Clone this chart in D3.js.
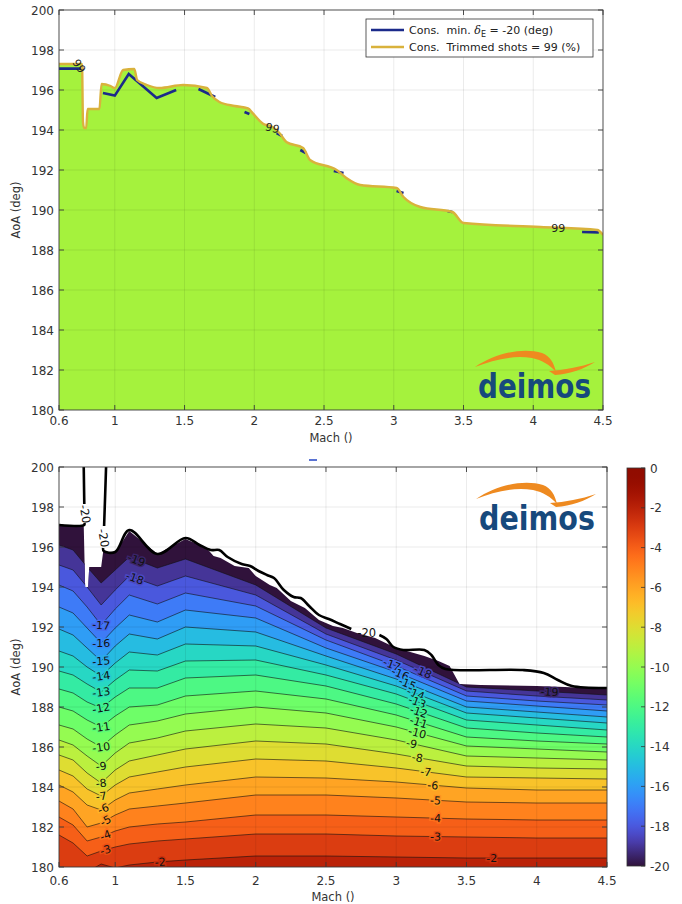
<!DOCTYPE html>
<html><head><meta charset="utf-8">
<script src="https://cdn.jsdelivr.net/npm/d3@7"></script>
<style>
body{margin:0;background:#fff}
svg{display:block}
text{font-family:"DejaVu Sans",sans-serif}
</style>
</head><body>
<svg id="c" width="682" height="904"></svg>
<script>
// ---------------- data ----------------
const machTicks = [0.6, 1, 1.5, 2, 2.5, 3, 3.5, 4, 4.5];
const machTickLabels = ["0.6", "1", "1.5", "2", "2.5", "3", "3.5", "4", "4.5"];
const aoaTicks = [180, 182, 184, 186, 188, 190, 192, 194, 196, 198, 200];
const cbarTicks = [0, -2, -4, -6, -8, -10, -12, -14, -16, -18, -20];

// top panel: trimmed-shots = 99% boundary
const trimMach = [0.6,0.765,0.772,0.78,0.795,0.805,0.89,0.905,0.97,1.0,1.06,1.14,1.16,1.23,1.32,1.49,1.66,1.7,1.75,1.86,1.955,1.99,2.06,2.13,2.18,2.23,2.35,2.4,2.59,2.66,2.76,3.02,3.07,3.19,3.42,3.5,4.05,4.46,4.5];
const trimAoA  = [197.3,197.3,194.4,194.1,194.1,195.05,195.05,196.3,196.2,196.1,197.0,197.05,196.5,196.25,196.1,196.25,196.1,195.67,195.4,195.2,195.08,194.83,194.33,194.15,193.85,193.4,193.1,192.5,192.0,191.6,191.25,191.1,190.65,190.15,189.9,189.35,189.15,189.0,188.75];
// top panel: min elevator -20 deg constraint (visible parts, null = gap)
const minDeMach = [0.6,0.775,null,0.915,1.0,1.1,1.3,1.44,null,1.6,1.72,null,1.93,1.965,null,2.16,2.2,null,2.33,2.37,null,2.57,2.64,null,3.02,3.07,null,3.385,3.42,null,4.35,4.47];
const minDeAoA  = [197.07,197.07,null,195.85,195.72,196.8,195.6,196.0,null,196.05,195.65,null,194.9,194.8,null,193.85,193.7,null,193.0,192.85,null,191.95,191.85,null,190.95,190.85,null,189.95,189.9,null,188.9,188.88];
const label99Mach = [0.745, 2.13, 4.18];
const label99AoA  = [197.2, 194.1, 189.1];

// bottom panel: contour lines of min elevator deflection
const gridMach = [0.6,0.7,0.8,0.9,1.0,1.1,1.3,1.5,2.0,2.5,3.0,3.5,4.0,4.5];
const contourLevels = [-19,-18,-17,-16,-15,-14,-13,-12,-11,-10,-9,-8,-7,-6,-5,-4,-3,-2];
const contourAoA = [
  [196.1,195.85,195.0,194.2,194.85,195.5,194.95,195.4,194.1,191.95,190.65,189.0,188.8,188.6],
  [195.1,194.85,194.0,193.1,193.85,194.55,194.05,194.55,193.6,191.65,190.35,188.8,188.55,188.35],
  [194.1,193.8,193.0,192.1,192.9,193.6,193.15,193.7,193.05,191.35,190.05,188.55,188.3,188.1],
  [193.0,192.7,191.95,191.2,191.95,192.6,192.25,192.85,192.45,190.95,189.75,188.3,188.05,187.8],
  [191.9,191.6,190.95,190.3,191.05,191.65,191.4,192.0,191.75,190.55,189.4,188.0,187.75,187.5],
  [190.8,190.55,190.0,189.55,190.2,190.75,190.6,191.15,191.05,190.1,189.05,187.7,187.45,187.2],
  [189.8,189.6,189.15,188.75,189.35,189.85,189.8,190.3,190.35,189.6,188.65,187.35,187.1,186.85],
  [188.9,188.7,188.25,187.95,188.5,188.95,188.95,189.45,189.6,189.05,188.15,186.95,186.7,186.5],
  [188.0,187.8,187.35,187.0,187.55,188.0,188.1,188.55,188.8,188.4,187.6,186.5,186.3,186.15],
  [187.1,186.9,186.4,186.0,186.6,187.1,187.3,187.65,188.0,187.7,187.0,186.05,185.9,185.75],
  [186.35,186.1,185.55,185.05,185.7,186.2,186.45,186.8,187.15,186.95,186.35,185.55,185.45,185.35],
  [185.6,185.35,184.7,184.2,184.85,185.3,185.6,185.9,186.3,186.15,185.65,185.05,184.95,184.9],
  [184.85,184.55,183.9,183.55,184.1,184.5,184.75,185.0,185.4,185.3,184.95,184.5,184.45,184.4],
  [184.1,183.75,183.1,182.85,183.35,183.7,183.9,184.1,184.5,184.45,184.25,183.95,183.85,183.85],
  [183.3,182.9,182.0,182.2,182.6,182.9,183.05,183.2,183.6,183.6,183.45,183.25,183.2,183.2],
  [182.5,182.1,181.3,181.5,181.8,182.0,182.15,182.25,182.6,182.6,182.5,182.4,182.35,182.35],
  [181.6,181.2,180.55,180.8,181.0,181.15,181.3,181.4,181.65,181.65,181.55,181.5,181.45,181.45],
  [179.8,179.7,179.75,180.15,179.95,180.1,180.25,180.35,180.55,180.55,180.5,180.45,180.45,180.45]
];
// data envelope (top of the coloured region)
const edgeMach = [0.6,0.776,0.786,0.808,0.815,0.9,0.915,1.0,1.1,1.3,1.5,1.65,1.7,1.75,1.85,1.95,2.0,2.1,2.15,2.25,2.35,2.45,2.55,2.62,2.72,2.85,3.0,3.1,3.2,3.3,3.38,3.45,3.6,4.0,4.2,4.5];
const edgeAoA  = [197.1,197.1,194.0,194.0,195.0,195.0,195.8,195.7,196.8,195.65,196.4,195.95,195.55,195.45,195.05,194.95,194.55,194.1,193.95,193.3,192.95,192.35,192.05,191.95,191.7,191.45,190.95,190.75,190.55,190.3,190.05,189.15,189.1,189.05,189.0,188.9];
// -20 deg constraint contour (thick), null = gap
const c20Mach = [0.6,0.779,0.781,null,0.78,0.776,null,0.935,0.928,0.921,null,0.914,0.918,1.0,1.1,1.3,1.5,1.6,1.68,1.74,1.8,1.9,1.96,2.02,2.08,2.13,2.2,2.27,2.32,2.38,2.45,2.52,2.6,2.68,null,2.88,2.93,2.98,3.05,3.2,3.25,3.3,3.35,3.9,4.05,4.15,4.25,4.5];
const c20AoA  = [197.1,197.1,197.2,null,198.15,200,null,200,198.5,197.05,null,195.95,195.8,195.75,196.85,195.65,196.45,196.1,195.85,195.85,195.5,195.15,195.05,194.8,194.6,194.45,193.85,193.5,193.45,193.05,192.6,192.4,192.15,191.9,null,191.6,191.4,191.0,190.85,190.85,190.6,190.1,189.9,189.85,189.7,189.35,189.05,188.95];
// inline contour labels
const labelLevels = [-19,-18,-17,-16,-15,-14,-13,-12,-11,-10,-9,-8,-7,-6,-5,-4,-3,-2,-2,-17,-16,-15,-14,-13,-12,-11,-10,-9,-8,-7,-6,-5,-4,-3,-18,-19];
const labelMach   = [1.15,1.14,0.9,0.9,0.9,0.9,0.9,0.9,0.9,0.9,0.9,0.9,0.9,0.915,0.93,0.93,0.93,1.32,3.68,2.97,3.03,3.08,3.14,3.15,3.16,3.16,3.15,3.11,3.15,3.21,3.26,3.28,3.28,3.28,3.19,4.09];
const lbl20Mach = [0.785, 0.918, 2.79];
const lbl20AoA  = [197.65, 196.45, 191.72];

// ---------------- drawing ----------------
const svg = d3.select("#c");
const defs = svg.append("defs");
const TXT = "#333";

const xT = d3.scaleLinear().domain([0.6, 4.5]).range([59, 603]);
const yT = d3.scaleLinear().domain([180, 200]).range([410, 10]);
const xB = d3.scaleLinear().domain([0.6, 4.5]).range([59, 607]);
const yB = d3.scaleLinear().domain([180, 200]).range([867, 467]);
const cY = d3.scaleLinear().domain([-20, 0]).range([866, 468]);

function cmap(t) {
  t = Math.max(0, Math.min(1, t));
  if (t < 0.06) return d3.interpolateRgb("#30123b", d3.interpolateTurbo(0.06))(t / 0.06);
  return d3.interpolateTurbo(t);
}
const levelT = L => (L + 20) / 20;

function clipRect(id, x, y) {
  defs.append("clipPath").attr("id", id).append("rect")
    .attr("x", x.range()[0]).attr("y", y.range()[1])
    .attr("width", x.range()[1] - x.range()[0]).attr("height", y.range()[0] - y.range()[1]);
}
clipRect("clipT", xT, yT);
clipRect("clipB", xB, yB);

function gridAndAxes(g, x, y) {
  const grid = g.append("g").attr("stroke", "#000").attr("stroke-opacity", 0.1).attr("stroke-width", 0.8);
  machTicks.slice(1, -1).forEach(m => grid.append("line").attr("x1", x(m)).attr("x2", x(m)).attr("y1", y(180)).attr("y2", y(200)));
  aoaTicks.slice(1, -1).forEach(a => grid.append("line").attr("x1", x(0.6)).attr("x2", x(4.5)).attr("y1", y(a)).attr("y2", y(a)));
}
function frame(g, x, y, ylabelY, xTickY, xLabY) {
  const ax = g.append("g").attr("stroke", "#3a3a3a").attr("stroke-width", 0.9);
  const x0 = x(0.6), x1 = x(4.5), y0 = y(180), y1 = y(200);
  machTicks.forEach(m => {
    ax.append("line").attr("x1", x(m)).attr("x2", x(m)).attr("y1", y0).attr("y2", y0 - 5);
    ax.append("line").attr("x1", x(m)).attr("x2", x(m)).attr("y1", y1).attr("y2", y1 + 5);
  });
  aoaTicks.forEach(a => {
    ax.append("line").attr("x1", x0).attr("x2", x0 + 5).attr("y1", y(a)).attr("y2", y(a));
    ax.append("line").attr("x1", x1).attr("x2", x1 - 5).attr("y1", y(a)).attr("y2", y(a));
  });
  ax.append("rect").attr("x", x0).attr("y", y1).attr("width", x1 - x0).attr("height", y0 - y1).attr("fill", "none");
  const tl = g.append("g").attr("fill", TXT).attr("font-size", 12);
  machTicks.forEach((m, i) => tl.append("text").attr("x", x(m)).attr("y", xTickY).attr("text-anchor", "middle").text(machTickLabels[i]));
  aoaTicks.forEach(a => tl.append("text").attr("x", x0 - 5).attr("y", y(a) + 4.5).attr("text-anchor", "end").text(a));
  tl.append("text").attr("x", (x0 + x1) / 2).attr("y", xLabY).attr("text-anchor", "middle").attr("font-size", 11.5).text("Mach ()");
  tl.append("text").attr("transform", `translate(20,${ylabelY}) rotate(-90)`).attr("text-anchor", "middle").attr("font-size", 11.5).text("AoA (deg)");
}
function logo(g, ox, oy, s, w) {
  const lg = g.append("g").attr("transform", `translate(${ox},${oy}) scale(${s})`);
  lg.append("path").attr("fill", "#ee8a20")
    .attr("d", "M -3,-31 C 18,-45 45,-51 64,-45 C 72,-42 76,-35 78,-26 C 72,-33 64,-38 54,-40 C 34,-43 15,-38 -3,-31 Z");
  lg.append("path").attr("fill", "#ee8a20")
    .attr("d", "M 71,-27 C 86,-28 102,-31 117,-36 C 106,-29 92,-24 77,-23 Z");
  lg.append("text").attr("x", 0).attr("y", 0).attr("fill", "#17497c")
    .attr("font-family", "'Open Sans', sans-serif").attr("font-weight", 600).attr("font-size", 33)
    .attr("textLength", w).attr("lengthAdjust", "spacingAndGlyphs").text("deimos");
}

// ======== TOP PANEL ========
const gT = svg.append("g");
const pT = gT.append("g").attr("clip-path", "url(#clipT)");
const trimPts = trimMach.map((m, i) => [m, trimAoA[i]]);
pT.append("path").datum(trimPts).attr("fill", "#a5f23d")
  .attr("d", d3.area().x(d => xT(d[0])).y0(yT(180)).y1(d => yT(d[1])).curve(d3.curveMonotoneX));
gridAndAxes(pT, xT, yT);
const minPts = minDeMach.map((m, i) => [m, minDeAoA[i]]);
pT.append("path").datum(minPts).attr("fill", "none").attr("stroke", "#1b2a8a").attr("stroke-width", 2.6)
  .attr("d", d3.line().defined(d => d[0] != null).x(d => xT(d[0])).y(d => yT(d[1])));
pT.append("path").datum(trimPts).attr("fill", "none").attr("stroke", "#d9b23c").attr("stroke-width", 2.4)
  .attr("d", d3.line().x(d => xT(d[0])).y(d => yT(d[1])).curve(d3.curveMonotoneX));
label99Mach.forEach((m, i) => {
  const rot = i === 0 ? 55 : (i === 1 ? 15 : 0);
  pT.append("text").attr("transform", `translate(${xT(m)},${yT(label99AoA[i])}) rotate(${rot})`)
    .attr("text-anchor", "middle").attr("dy", 4).attr("font-size", 11).attr("fill", "#222").text("99");
});
frame(gT, xT, yT, 210, 425, 442);
logo(gT, 478, 398, 1, 113);
// legend
const lg = gT.append("g");
lg.append("rect").attr("x", 366).attr("y", 19).attr("width", 227).attr("height", 38).attr("fill", "#fff").attr("stroke", "#333").attr("stroke-width", 0.8);
lg.append("line").attr("x1", 371).attr("x2", 404).attr("y1", 30).attr("y2", 30).attr("stroke", "#1b2a8a").attr("stroke-width", 2.4);
lg.append("line").attr("x1", 371).attr("x2", 404).attr("y1", 47).attr("y2", 47).attr("stroke", "#d9b23c").attr("stroke-width", 2.4);
const t1 = lg.append("text").attr("x", 409).attr("y", 34).attr("font-size", 11).attr("fill", "#222");
t1.append("tspan").text("Cons.\u00a0\u00a0min. ");
t1.append("tspan").attr("font-style", "italic").attr("font-family", "'DejaVu Serif', serif").text("\u03b4");
t1.append("tspan").attr("font-size", 8).attr("dy", 3).text("E");
t1.append("tspan").attr("dy", -3).text(" = -20 (deg)");
lg.append("text").attr("x", 409).attr("y", 51).attr("font-size", 11).attr("fill", "#222").text("Cons.\u00a0\u00a0Trimmed shots = 99 (%)");

// ======== BOTTOM PANEL ========
const gB = svg.append("g");
const edgePts = edgeMach.map((m, i) => [m, edgeAoA[i]]);
defs.append("clipPath").attr("id", "edgeClip").append("path").datum(edgePts)
  .attr("d", d3.area().x(d => xB(d[0])).y0(yB(180)).y1(d => yB(d[1])));
const pB = gB.append("g").attr("clip-path", "url(#clipB)");
const bands = pB.append("g").attr("clip-path", "url(#edgeClip)");
const bandArea = d3.area().x(d => xB(d[0])).y0(yB(179)).y1(d => yB(d[1]));
bands.append("rect").attr("x", xB(0.6)).attr("y", yB(200)).attr("width", xB(4.5) - xB(0.6)).attr("height", yB(180) - yB(200)).attr("fill", cmap(0));
contourLevels.forEach((L, k) => {
  const pts = gridMach.map((m, i) => [m, contourAoA[k][i]]);
  bands.append("path").datum(pts).attr("fill", cmap(levelT(L))).attr("d", bandArea);
});
const cl = d3.line().x(d => xB(d[0])).y(d => yB(d[1]));
contourLevels.forEach((L, k) => {
  const pts = gridMach.map((m, i) => [m, contourAoA[k][i]]);
  bands.append("path").datum(pts).attr("fill", "none").attr("stroke", "#111").attr("stroke-opacity", 0.85).attr("stroke-width", 0.7).attr("d", cl);
});
gridAndAxes(pB, xB, yB);
function aoaAt(row, m) {
  for (let i = 0; i < gridMach.length - 1; i++) {
    if (m >= gridMach[i] && m <= gridMach[i + 1]) {
      const t = (m - gridMach[i]) / (gridMach[i + 1] - gridMach[i]);
      return row[i] + t * (row[i + 1] - row[i]);
    }
  }
  return row[row.length - 1];
}
const labG = pB.append("g").attr("clip-path", "url(#edgeClip)");
labelLevels.forEach((L, j) => {
  const k = contourLevels.indexOf(L), row = contourAoA[k], m = labelMach[j];
  const a = aoaAt(row, m);
  const xa = xB(m - 0.04), ya = yB(aoaAt(row, Math.max(0.6, m - 0.04)));
  const xb = xB(m + 0.04), yb = yB(aoaAt(row, Math.min(4.5, m + 0.04)));
  const ang = Math.atan2(yb - ya, xb - xa) * 180 / Math.PI;
  labG.append("text").attr("transform", `translate(${xB(m)},${yB(a)}) rotate(${ang})`)
    .attr("text-anchor", "middle").attr("dy", 4).attr("font-size", 11).attr("fill", "#111")
    .attr("stroke", cmap(levelT(L) - 0.025)).attr("stroke-width", 3).attr("paint-order", "stroke")
    .text(L);
});
const c20Pts = c20Mach.map((m, i) => [m, c20AoA[i]]);
pB.append("path").datum(c20Pts).attr("fill", "none").attr("stroke", "#000").attr("stroke-width", 2.6).attr("stroke-linejoin", "round")
  .attr("d", d3.line().defined(d => d[0] != null).x(d => xB(d[0])).y(d => yB(d[1])).curve(d3.curveCatmullRom.alpha(0.5)));
lbl20Mach.forEach((m, i) => {
  const rot = i < 2 ? 80 : 0;
  pB.append("text").attr("transform", `translate(${xB(m)},${yB(lbl20AoA[i])}) rotate(${rot})`)
    .attr("text-anchor", "middle").attr("dy", 4).attr("font-size", 11.5).attr("fill", "#111").text("-20");
});
frame(gB, xB, yB, 667, 885, 901);
logo(gB, 479, 530, 1, 116);
gB.append("line").attr("x1", 309).attr("x2", 317).attr("y1", 460).attr("y2", 460).attr("stroke", "#3050c8").attr("stroke-width", 1.6);

// colorbar
const grad = defs.append("linearGradient").attr("id", "cgrad").attr("x1", 0).attr("x2", 0).attr("y1", 1).attr("y2", 0);
d3.range(0, 1.0001, 0.02).forEach(t => grad.append("stop").attr("offset", t).attr("stop-color", cmap(t)));
const cb = svg.append("g");
cb.append("rect").attr("x", 627).attr("y", cY(0)).attr("width", 18).attr("height", cY(-20) - cY(0)).attr("fill", "url(#cgrad)").attr("stroke", "#333").attr("stroke-width", 0.8);
cbarTicks.forEach(v => {
  cb.append("line").attr("x1", 641).attr("x2", 645).attr("y1", cY(v)).attr("y2", cY(v)).attr("stroke", "#333").attr("stroke-width", 0.8);
  cb.append("text").attr("x", 650).attr("y", cY(v) + 4.5).attr("font-size", 12).attr("fill", TXT).text(v);
});
</script>
</body></html>
